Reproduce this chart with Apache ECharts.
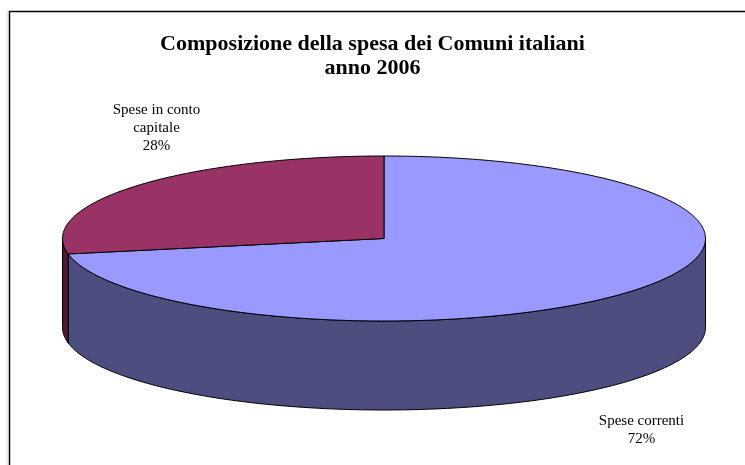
<!DOCTYPE html>
<html>
<head>
<meta charset="utf-8">
<script src="https://cdn.jsdelivr.net/npm/echarts@6/dist/echarts.min.js"></script>
<style>html,body{margin:0;padding:0;background:#fff;}#c{width:745px;height:465px;}</style>
</head>
<body>
<div id="c"></div>
<script>
const categories = ['Spese correnti', 'Spese in conto capitale'];
const labelNames = ['Spese correnti', 'Spese in conto\ncapitale'];
const values = [72, 28];
const titleLines = ['Composizione della spesa dei Comuni italiani', 'anno 2006'];

const topColors = ['#9999FF', '#993366'];
const sideColors = ['#4D4D80', '#4D1A33'];

const total = values.reduce((a, b) => a + b, 0);
const cum = [0];
values.forEach((v, i) => cum.push(cum[i] + v));

const G = { cx: 384, cy: 238.5, rx: 321.5, ry: 82.5, depth: 89 };
function pt(t, dy) {
  return [G.cx + G.rx * Math.sin(t), G.cy - G.ry * Math.cos(t) + (dy || 0)];
}
function arc(a, b, dy) {
  const n = Math.max(2, Math.ceil((b - a) / (Math.PI / 180)));
  const out = [];
  for (let k = 0; k <= n; k++) out.push(pt(a + (b - a) * k / n, dy));
  return out;
}

function renderItem(params, api) {
  const i = params.dataIndex;
  const v = api.value(0);
  const a = cum[i] / total * 2 * Math.PI;
  const b = a + v / total * 2 * Math.PI;
  const children = [];
  const sa = Math.max(a, Math.PI / 2), sb = Math.min(b, 3 * Math.PI / 2);
  if (sb > sa) {
    const upper = arc(sa, sb, 0);
    const lower = arc(sa, sb, G.depth).reverse();
    children.push({
      type: 'polygon',
      shape: { points: upper.concat(lower) },
      style: { fill: sideColors[i], stroke: '#000', lineWidth: 1 }
    });
  }
  const top = [[G.cx, G.cy]].concat(arc(a, b, 0));
  children.push({
    type: 'polygon',
    shape: { points: top },
    style: { fill: topColors[i], stroke: '#000', lineWidth: 1 }
  });
  const m = (a + b) / 2;
  const lx = G.cx + 314.7 * Math.sin(m) + 15;
  const ly = G.cy - 167 * Math.cos(m) - 4 + (Math.cos(m) < 0 ? G.depth : 0);
  children.push({
    type: 'text',
    x: lx, y: ly,
    style: {
      text: labelNames[i] + '\n' + Math.round(v / total * 100) + '%',
      fill: '#000',
      font: '15px "Liberation Serif", serif',
      lineHeight: 18,
      align: 'center',
      verticalAlign: 'middle'
    }
  });
  return { type: 'group', children: children };
}

const chart = echarts.init(document.getElementById('c'), null, { renderer: 'canvas' });
chart.setOption({
  animation: false,
  backgroundColor: '#fff',
  title: {
    text: titleLines.join('\n'),
    left: 'center',
    top: 27,
    textStyle: {
      fontFamily: '"Liberation Serif", serif',
      fontWeight: 'bold',
      fontSize: 22,
      lineHeight: 24,
      color: '#000'
    }
  },
  graphic: [
    { type: 'line', shape: { x1: 7, y1: 11, x2: 7, y2: 470 }, style: { stroke: '#d8d8d8', lineWidth: 1 } },
    { type: 'rect', shape: { x: 9.5, y: 11.5, width: 800, height: 500 }, style: { fill: 'none', stroke: '#000', lineWidth: 1.5 } }
  ],
  series: [{
    type: 'custom',
    coordinateSystem: 'none',
    renderItem: renderItem,
    data: values.map((v, i) => ({ name: categories[i], value: [v] }))
  }]
});
</script>
</body>
</html>
